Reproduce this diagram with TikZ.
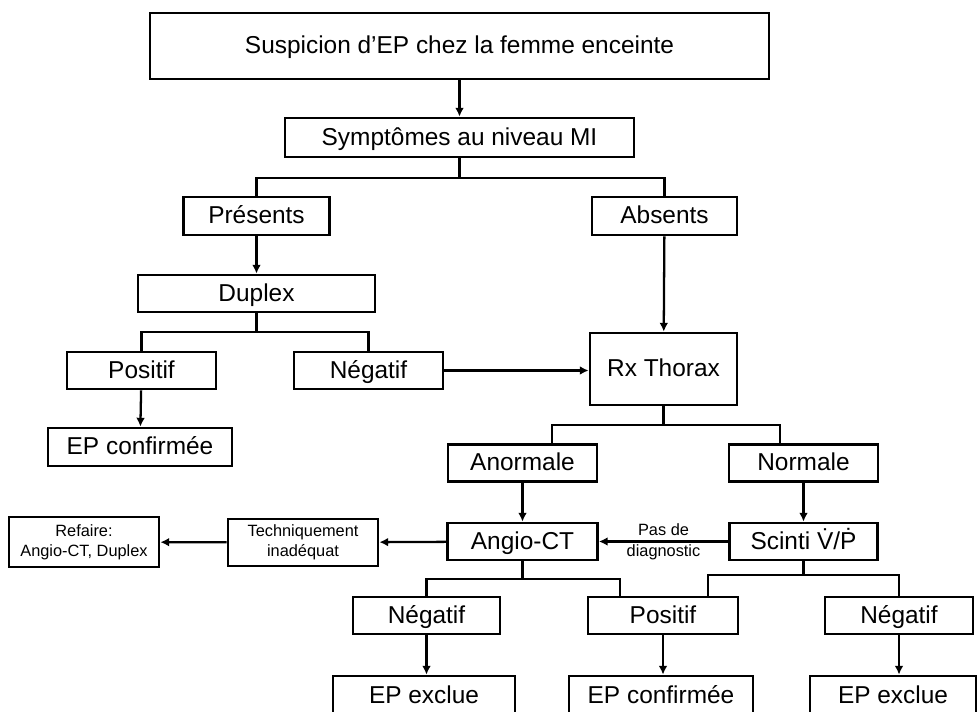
\documentclass[tikz,border=0pt]{standalone}
\usepackage{fontspec}
\setmainfont{Liberation Sans}
\usetikzlibrary{shapes, arrows.meta}

\tikzset{
	frame/.style={rectangle, draw, line width=1.6pt, inner sep=0pt},
	box/.style={frame, text height=10pt, text depth=1pt, font=\fontsize{13.9}{16}\selectfont},
	smallbox/.style={frame, align=center, font=\fontsize{9.3}{11.5}\selectfont},
	lbl/.style={align=center, inner sep=0pt, font=\fontsize{9.3}{12.2}\selectfont},
	conn/.style={line width=1.3pt},
	arr/.style={conn, -{Latex[length=5pt,width=5pt]}}
}

\begin{document}
\begin{tikzpicture}
		\useasboundingbox (0, 0) rectangle (19.6, -14.24);
		\node(SUSP) at (9.19, -0.92)[box, minimum width=12.38cm, minimum height=1.32cm]{Suspicion d’EP chez la femme enceinte};
		\node(SYMPT) at (9.19, -2.75)[box, minimum width=6.98cm, minimum height=0.78cm]{Symptômes au niveau MI};
		\node(PRES) at (5.13, -4.32)[box, minimum width=2.92cm, minimum height=0.76cm]{Présents};
		\node(ABS) at (13.29, -4.32)[box, minimum width=2.9cm, minimum height=0.76cm]{Absents};
		\node(DUPLEX) at (5.13, -5.87)[box, minimum width=4.74cm, minimum height=0.74cm]{Duplex};
		\node(POS1) at (2.83, -7.41)[box, minimum width=2.98cm, minimum height=0.74cm]{Positif};
		\node(NEG1) at (7.37, -7.41)[box, minimum width=2.98cm, minimum height=0.74cm]{Négatif};
		\node(CONF1) at (2.8, -8.94)[box, minimum width=3.68cm, minimum height=0.76cm]{EP confirmée};
		\node(RX) at (13.27, -7.38)[box, minimum width=2.94cm, minimum height=1.44cm]{Rx Thorax};
		\node(ANORM) at (10.45, -9.26)[box, minimum width=2.98cm, minimum height=0.74cm]{Anormale};
		\node(NORM) at (16.07, -9.26)[box, minimum width=2.98cm, minimum height=0.74cm]{Normale};
		\node(ANGIO) at (10.45, -10.83)[box, minimum width=3cm, minimum height=0.74cm]{Angio-CT};
		\node(SCINTI) at (16.07, -10.83)[box, minimum width=2.96cm, minimum height=0.74cm]{Scinti V̇/Ṗ};
		\node(TECH) at (6.06, -10.85)[smallbox, minimum width=3cm, minimum height=0.94cm]{Techniquement\\inadéquat};
		\node(REFAIRE) at (1.68, -10.84)[smallbox, minimum width=3cm, minimum height=1cm]{Refaire:\\Angio-CT, Duplex};
		\node(NEG2) at (8.53, -12.31)[box, minimum width=2.94cm, minimum height=0.74cm]{Négatif};
		\node(POS2) at (13.26, -12.31)[box, minimum width=3cm, minimum height=0.74cm]{Positif};
		\node(NEG3) at (17.98, -12.31)[box, minimum width=2.96cm, minimum height=0.74cm]{Négatif};
		\node(EXCL1) at (8.48, -13.92)[box, minimum width=3.64cm, minimum height=0.8cm]{EP exclue};
		\node(CONF2) at (13.22, -13.92)[box, minimum width=3.68cm, minimum height=0.8cm]{EP confirmée};
		\node(EXCL2) at (17.86, -13.92)[box, minimum width=3.32cm, minimum height=0.8cm]{EP exclue};
		% branch points
		\coordinate(B1) at (9.19, -3.56);
		\coordinate(B2) at (5.13, -6.64);
		\coordinate(B3) at (13.27, -8.5);
		\coordinate(B4) at (10.45, -11.58);
		\coordinate(B5) at (16.07, -11.5);
		\draw[arr] (SUSP) -- (SYMPT);
		\draw[conn] (SYMPT) -- (B1);
		\draw[conn] (PRES.north) |- (B1) -| (ABS.north);
		\draw[arr] (PRES) -- (DUPLEX);
		\draw[arr] (ABS) -- (RX);
		\draw[conn] (DUPLEX) -- (B2);
		\draw[conn] (POS1.north) |- (B2) -| (NEG1.north);
		\draw[arr] (POS1) -- (CONF1);
		\draw[arr] (NEG1) -- (NEG1 -| RX.west);
		\draw[conn] (RX) -- (B3);
		\draw[conn] ([xshift=0.59cm]ANORM.north) |- (B3) -| ([xshift=-0.47cm]NORM.north);
		\draw[arr] (ANORM) -- (ANGIO);
		\draw[arr] (NORM) -- (SCINTI);
		\draw[arr] (SCINTI) -- node[lbl]{Pas de\\diagnostic} (ANGIO);
		\draw[arr] (ANGIO) -- (TECH);
		\draw[arr] (TECH) -- (REFAIRE);
		\draw[conn] (ANGIO) -- (B4);
		\draw[conn] (NEG2.north) |- (B4) -| ([xshift=-0.86cm]POS2.north);
		\draw[conn] (SCINTI) -- (B5);
		\draw[conn] ([xshift=0.9cm]POS2.north) |- (B5) -| (NEG3.north);
		\draw[arr] (NEG2) -- (NEG2 |- EXCL1.north);
		\draw[arr] (POS2) -- (POS2 |- CONF2.north);
		\draw[arr] (NEG3) -- (NEG3 |- EXCL2.north);
		\end{tikzpicture}
\end{document}
